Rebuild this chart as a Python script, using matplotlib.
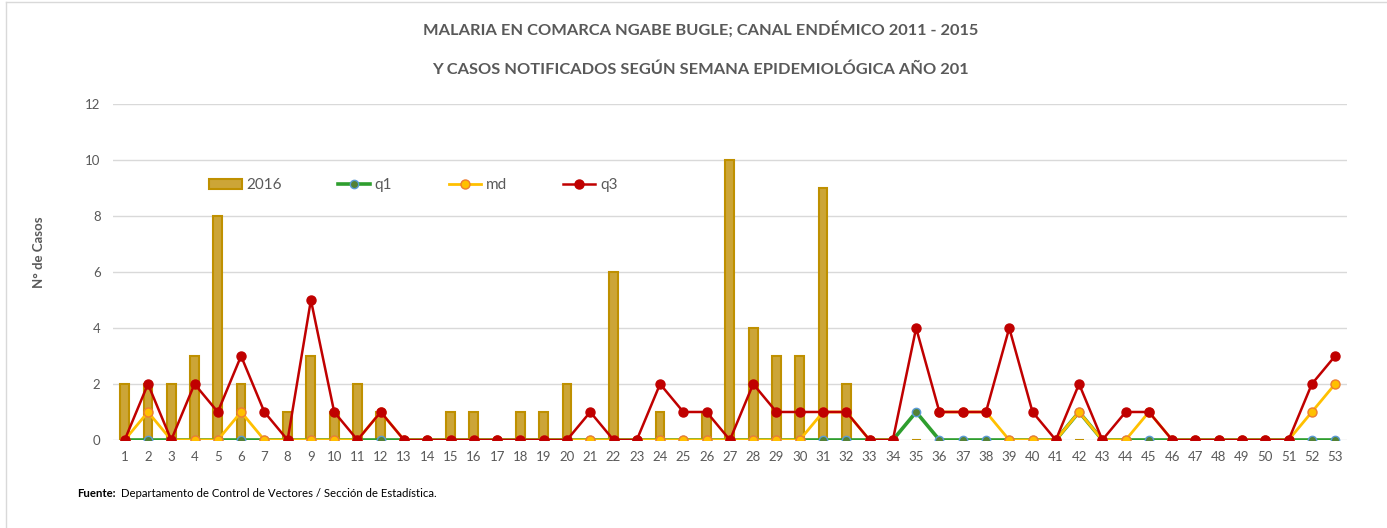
import numpy as np
import matplotlib
matplotlib.use("Agg")
from matplotlib import pyplot as plt
from matplotlib.lines import Line2D
from matplotlib.patches import Rectangle
from matplotlib.legend_handler import HandlerPatch

plt.rcParams['font.family'] = ['Lato', 'DejaVu Sans']

# semanas epidemiologicas
semanas = list(range(1, 54))

# casos 2016
casos_2016 = [2, 2, 2, 3, 8, 2, 0, 1, 3, 1, 2, 1, 0, 0, 1, 1, 0, 1, 1, 2,
              0, 6, 0, 1, 0, 1, 10, 4, 3, 3, 9, 2, 0, 0, 0, 0, 0, 0, 0, 0,
              0, 0, 0, 0, 0, 0, 0, 0, 0, 0, 0, 0, 0]

# canal endemico 2011 - 2015
q1 = [0, 0, 0, 0, 0, 0, 0, 0, 0, 0, 0, 0, 0, 0, 0, 0, 0, 0, 0, 0,
      0, 0, 0, 0, 0, 0, 0, 0, 0, 0, 0, 0, 0, 0, 1, 0, 0, 0, 0, 0,
      0, 1, 0, 0, 0, 0, 0, 0, 0, 0, 0, 0, 0]
md = [0, 1, 0, 0, 0, 1, 0, 0, 0, 0, 0, 1, 0, 0, 0, 0, 0, 0, 0, 0,
      0, 0, 0, 0, 0, 0, 0, 0, 0, 0, 1, 1, 0, 0, np.nan, 1, 1, 1, 0, 0,
      0, 1, 0, 0, 1, 0, 0, 0, 0, 0, 0, 1, 2]
q3 = [0, 2, 0, 2, 1, 3, 1, 0, 5, 1, 0, 1, 0, 0, 0, 0, 0, 0, 0, 0,
      1, 0, 0, 2, 1, 1, 0, 2, 1, 1, 1, 1, 0, 0, 4, 1, 1, 1, 4, 1,
      0, 2, 0, 1, 1, 0, 0, 0, 0, 0, 0, 2, 3]

gris = '#595959'

fig = plt.figure(figsize=(13.87, 5.28), dpi=100)
ax = fig.add_axes([0.0815, 0.1667, 0.8895, 0.6363])

barras = ax.bar(semanas, casos_2016, width=0.38, color='#CCA537', edgecolor='#BF9000',
                linewidth=1.5, zorder=2, label='2016')
l1, = ax.plot(semanas, q1, color='#2E9E2E', lw=2.6, marker='o', ms=6,
              mfc='#548235', mec='#5B9BD5', mew=1, zorder=3, label='q1')
l2, = ax.plot(semanas, md, color='#FFC000', lw=2.0, marker='o', ms=6.5,
              mfc='#FFC000', mec='#ED7D31', mew=1, zorder=4, label='md')
l3, = ax.plot(semanas, q3, color='#C00000', lw=1.8, marker='o', ms=6.5,
              mfc='#C00000', mec='#C00000', zorder=5, label='q3')

ax.set_xlim(0.5, 53.5)
ax.set_ylim(0, 12)
ax.set_yticks(range(0, 13, 2))
ax.set_xticks(semanas)
ax.grid(axis='y', color='#D9D9D9', lw=1, zorder=0)
ax.set_axisbelow(True)
for s in ax.spines.values():
    s.set_visible(False)
ax.tick_params(length=0, colors=gris, labelsize=9.5)
ax.tick_params(axis='x', pad=8)
ax.tick_params(axis='y', pad=9)

fig.text(0.028, 0.523, 'N° de Casos', rotation=90, ha='center', va='center',
         fontsize=9.5, fontweight='bold', color=gris)


def barra_plana(legend, orig_handle, xdescent, ydescent, width, height, fontsize):
    return Rectangle((-xdescent, -ydescent + height * 0.2), width, height * 0.55)


ax.legend([barras, l1, l2, l3], ['2016', 'q1', 'md', 'q3'], ncol=4,
          loc='upper left', bbox_to_anchor=(0.067, 0.82), frameon=False,
          fontsize=11, labelcolor=gris, columnspacing=3.7, handlelength=2.1,
          handletextpad=0.3,
          handler_map={type(barras.patches[0]): HandlerPatch(patch_func=barra_plana)})

fig.text(0.505, 0.945, 'MALARIA EN COMARCA NGABE BUGLE; CANAL ENDÉMICO 2011 - 2015',
         ha='center', va='center', fontsize=11.8, fontweight='bold', color=gris)
fig.text(0.505, 0.867, 'Y CASOS NOTIFICADOS SEGÚN SEMANA EPIDEMIOLÓGICA AÑO 201',
         ha='center', va='center', fontsize=11.8, fontweight='bold', color=gris)

fuente = fig.text(0.0555, 0.066, 'Fuente:', ha='left', va='center', fontsize=8.2,
                  fontweight='bold', color='black')
fig.add_artist(plt.Annotation('Departamento de Control de Vectores / Sección de Estadística.',
                              xy=(1, 0.5), xycoords=fuente, xytext=(4, 0),
                              textcoords='offset points', ha='left', va='center',
                              fontsize=8.2, color='black'))

# borde del grafico
fig.add_artist(Line2D([0.004, 1.0], [0.996, 0.996], color='#D9D9D9', lw=1))
fig.add_artist(Line2D([0.004, 0.004], [0.0, 0.996], color='#D9D9D9', lw=1))

fig.savefig('out.png', dpi=100)
